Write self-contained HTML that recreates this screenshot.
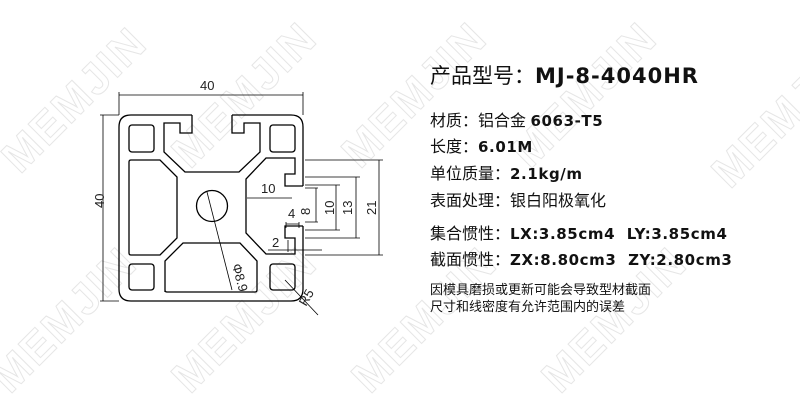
<!DOCTYPE html><html><head><meta charset="utf-8"><style>
body{margin:0;width:800px;height:400px;background:#fff;overflow:hidden;position:relative;font-family:"Liberation Sans","Noto Sans CJK SC",sans-serif}
.t{position:absolute;left:430px;color:#111;font-size:16px;white-space:nowrap}
b{font-family:"DejaVu Sans","Liberation Sans",sans-serif;font-weight:bold;font-size:15px;letter-spacing:0.6px}
</style></head><body>
<svg width="800" height="400" style="position:absolute;left:0;top:0" font-family="Liberation Sans,sans-serif">
<g fill="none" stroke="#e6e6e6" stroke-width="1" font-size="44" font-weight="bold" letter-spacing="2">
<text transform="translate(20,175) rotate(-45)">MEMJIN</text>
<text transform="translate(190,170) rotate(-45)">MEMJIN</text>
<text transform="translate(360,170) rotate(-45)">MEMJIN</text>
<text transform="translate(530,170) rotate(-45)">MEMJIN</text>
<text transform="translate(730,190) rotate(-45)">MEMJIN</text>
<text transform="translate(10,395) rotate(-45)">MEMJIN</text>
<text transform="translate(190,395) rotate(-45)">MEMJIN</text>
<text transform="translate(370,395) rotate(-45)">MEMJIN</text>
<text transform="translate(560,395) rotate(-45)">MEMJIN</text>
</g>
<g fill="none" stroke="#000" stroke-width="1.3">
<path d="M131,115 H192 M232,115 H291 Q303,115 303,127 V186 M303,226 V289 Q303,301 291,301 H131 Q119,301 119,289 V127 Q119,115 131,115"/>
<path d="M232,115 V133 H244 V123 H260 V152 L239,172 H185 L164,152 V123 H180 V133 H192 V115"/>
<path d="M303,186 H285 V174 H295 V158 H266 L246,179 V233 L266,254 H295 V238 H285 V226 H303"/>
<rect x="129" y="125" width="25" height="27" rx="3"/>
<rect x="270" y="125" width="25" height="27" rx="3"/>
<rect x="129" y="264" width="25" height="26" rx="3"/>
<rect x="270" y="264" width="25" height="26" rx="3"/>
<path d="M131,160 H160 L177,177 V238 L160,255 H131 Q129,255 129,253 V162 Q129,160 131,160Z"/>
<path d="M165,292 V261 L183,243 H240 L257,261 V290 Q257,292 255,292 H167 Q165,292 165,290Z"/>
<circle cx="212" cy="206" r="15.5"/>
</g>
<g stroke="#000" stroke-width="0.8" fill="none">
<path d="M119,115 V92 M303,115 V92 M119,95 H303"/>
<path d="M119,115 H100 M119,301 H100 M103,115 V301"/>
<path d="M305,160 H383 M305,255 H383 M379,160 V255"/>
<path d="M305,177 H360 M305,238 H360 M356,177 V238"/>
<path d="M305,185 H340 M305,230 H340 M336,185 V230"/>
<path d="M305,188 H318 M305,222 H318 M316,188 V222"/>
<path d="M247,198 H292"/>
<path d="M286,222 V228 M299,222 V228 M286,224 H299"/>
<path d="M268,250 H322 M288,240 V252"/>
<path d="M207,192 L232,290"/>
<path d="M285,280 L318,315"/>
</g>
<g font-size="13" fill="#222">
<text x="200" y="90">40</text>
<text x="97" y="215" transform="rotate(-90 97 208)">40</text>
<text x="261" y="193">10</text>
<text x="288" y="218">4</text>
<text x="296" y="215" transform="rotate(-90 303 208)">8</text>
<text x="320" y="215" transform="rotate(-90 327 208)">10</text>
<text x="338" y="215" transform="rotate(-90 345 208)">13</text>
<text x="362" y="215" transform="rotate(-90 369 208)">21</text>
<text x="272" y="247">2</text>
<text x="232" y="265" transform="rotate(75 232 265)">Φ8.9</text>
<text x="302" y="300" transform="rotate(-60 310 300)">R5</text>
</g>
</svg>
<div class="t" style="top:60px;font-size:21px">产品型号：<b style="font-size:21px;letter-spacing:1px">MJ-8-4040HR</b></div>
<div class="t" style="top:107px">材质：铝合金 <b>6063-T5</b></div>
<div class="t" style="top:133px">长度：<b>6.01M</b></div>
<div class="t" style="top:160px">单位质量：<b>2.1kg/m</b></div>
<div class="t" style="top:187px">表面处理：银白阳极氧化</div>
<div class="t" style="top:220px">集合惯性：<b>LX:3.85cm4&nbsp; LY:3.85cm4</b></div>
<div class="t" style="top:246px">截面惯性：<b>ZX:8.80cm3&nbsp; ZY:2.80cm3</b></div>
<div class="t" style="top:281px;font-size:13px;line-height:17px">因模具磨损或更新可能会导致型材截面<br>尺寸和线密度有允许范围内的误差</div>
</body></html>
